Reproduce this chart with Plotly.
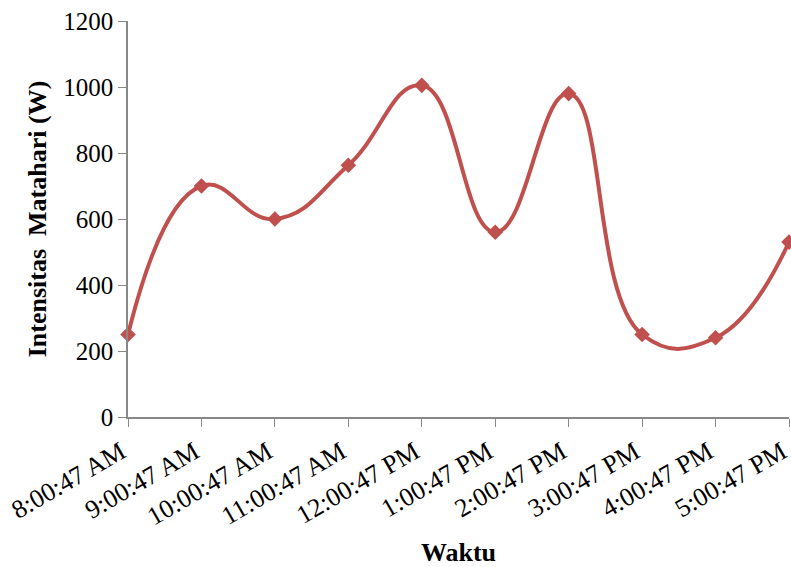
import plotly.graph_objects as go

times = ["8:00:47 AM", "9:00:47 AM", "10:00:47 AM", "11:00:47 AM", "12:00:47 PM",
         "1:00:47 PM", "2:00:47 PM", "3:00:47 PM", "4:00:47 PM", "5:00:47 PM"]
intensitas = [250, 700, 600, 763, 1005, 560, 980, 250, 240, 530]
y_ticks = [0, 200, 400, 600, 800, 1000, 1200]

color = "#C0504D"
font_family = "Liberation Serif, Times New Roman, serif"

fig = go.Figure()
fig.add_trace(go.Scatter(
    x=list(range(len(times))), y=intensitas,
    mode="lines+markers",
    line=dict(color=color, width=4, shape="spline", smoothing=1.3),
    marker=dict(symbol="diamond", size=12, color=color),
    cliponaxis=False,
    showlegend=False,
))

fig.update_layout(
    width=791, height=567,
    margin=dict(l=128, r=2, t=21, b=150, autoexpand=False),
    paper_bgcolor="white", plot_bgcolor="white",
    font=dict(family=font_family, size=25, color="black"),
    xaxis=dict(
        range=[0, 9], tickmode="array",
        tickvals=list(range(len(times))), ticktext=times,
        tickangle=-30, ticks="outside", ticklen=8, tickcolor="#888888",
        tickfont=dict(size=26), ticklabelshift=-7,
        ticklabeloverflow="allow", automargin=False,
        showline=True, linecolor="#888888", linewidth=1.5,
        showgrid=False, zeroline=False,
        title=dict(text="<b>Waktu</b>", font=dict(size=26), standoff=20),
    ),
    yaxis=dict(
        range=[0, 1200], tickmode="array", tickvals=y_ticks,
        ticks="outside", ticklen=8, tickcolor="#888888", automargin=False,
        showline=True, linecolor="#888888", linewidth=1.5,
        showgrid=False, zeroline=False,
        title=dict(text="<b>Intensitas  Matahari (W)</b>", font=dict(size=26), standoff=9),
    ),
)

fig.write_html("out.html")
